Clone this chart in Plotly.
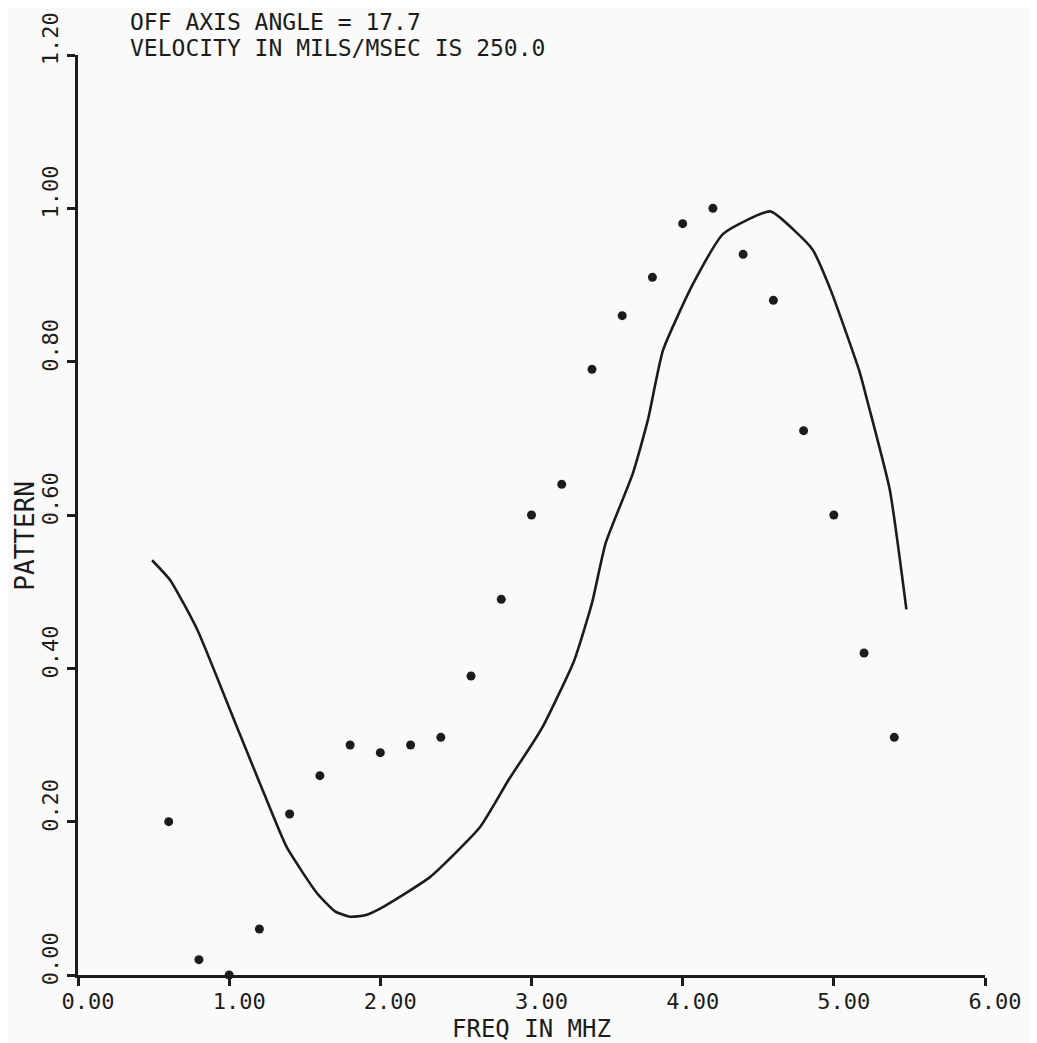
import plotly.graph_objects as go

# Measured points (dots)
freq_pts = [0.6, 0.8, 1.0, 1.2, 1.4, 1.6, 1.8, 2.0, 2.2, 2.4, 2.6, 2.8, 3.0,
            3.2, 3.4, 3.6, 3.8, 4.0, 4.2, 4.4, 4.6, 4.8, 5.0, 5.2, 5.4]
pattern_pts = [0.20, 0.02, 0.00, 0.06, 0.21, 0.26, 0.30, 0.29, 0.30, 0.31, 0.39,
               0.49, 0.60, 0.64, 0.79, 0.86, 0.91, 0.98, 1.00, 0.94, 0.88, 0.71,
               0.60, 0.42, 0.31]

# Computed curve (solid line)
freq_curve = [0.49, 0.61, 0.79, 1.05, 1.23, 1.38, 1.58, 1.70, 1.80, 1.90, 2.02,
              2.33, 2.66, 2.85, 3.00, 3.08, 3.28, 3.40, 3.49, 3.67, 3.77, 3.87,
              4.07, 4.27, 4.58, 4.75, 4.86, 4.98, 5.17, 5.22, 5.37, 5.48]
pattern_curve = [0.541, 0.515, 0.450, 0.324, 0.237, 0.167, 0.107, 0.083, 0.076,
                 0.078, 0.089, 0.128, 0.193, 0.255, 0.300, 0.326, 0.409, 0.485,
                 0.563, 0.654, 0.724, 0.815, 0.902, 0.967, 0.996, 0.969, 0.946,
                 0.893, 0.787, 0.750, 0.633, 0.477]

x_tick_vals = [0, 1, 2, 3, 4, 5, 6]
x_tick_text = ["0.00", "1.00", "2.00", "3.00", "4.00", "5.00", "6.00"]
y_tick_vals = [0, 0.2, 0.4, 0.6, 0.8, 1.0, 1.2]
y_tick_text = ["0.00", "0.20", "0.40", "0.60", "0.80", "1.00", "1.20"]

title_lines = ["OFF AXIS ANGLE = 17.7", "VELOCITY IN MILS/MSEC IS 250.0"]
x_title = "FREQ IN MHZ"
y_title = "PATTERN"

INK = "#1c1c1c"
FONT = "DejaVu Sans Mono"

fig = go.Figure()
fig.add_trace(go.Scatter(
    x=freq_curve, y=pattern_curve, mode="lines",
    line=dict(color=INK, width=2.6, shape="spline", smoothing=0.5),
    showlegend=False, hoverinfo="skip",
))
fig.add_trace(go.Scatter(
    x=freq_pts, y=pattern_pts, mode="markers",
    marker=dict(color=INK, size=9), showlegend=False, cliponaxis=False,
))

# page body adds an 8px offset; margins compensate so the plot lands where the reference has it
fig.update_layout(
    width=1037, height=1043,
    margin=dict(l=70, r=60, t=47, b=76),
    paper_bgcolor="#fafafa", plot_bgcolor="#fafafa",
    font=dict(family=FONT, color=INK),
    xaxis=dict(
        range=[0, 6], tickvals=x_tick_vals, ticktext=x_tick_text,
        showgrid=False, zeroline=False, showline=True, linecolor=INK,
        linewidth=2.5, ticks="outside", ticklen=8, tickwidth=2.5, tickcolor=INK,
        ticklabelshift=10, ticklabelstandoff=-3, ticklabeloverflow="allow",
        tickfont=dict(size=22, family=FONT, color=INK), automargin=False,
    ),
    yaxis=dict(
        range=[0, 1.2], tickvals=y_tick_vals, ticktext=y_tick_text,
        showgrid=False, zeroline=False, showline=True, linecolor=INK,
        linewidth=2.5, ticks="outside", ticklen=8, tickwidth=2.5, tickcolor=INK,
        tickangle=-90, ticklabelshift=-13, ticklabeloverflow="allow",
        tickfont=dict(size=22, family=FONT, color=INK), automargin=False,
    ),
)

fig.add_annotation(text=title_lines[0], xref="paper", yref="paper",
                   x=0.055, y=1.0359, xanchor="left", yanchor="middle",
                   showarrow=False, font=dict(size=23, family=FONT, color=INK))
fig.add_annotation(text=title_lines[1], xref="paper", yref="paper",
                   x=0.055, y=1.0076, xanchor="left", yanchor="middle",
                   showarrow=False, font=dict(size=23, family=FONT, color=INK))
fig.add_annotation(text=x_title, xref="paper", yref="paper",
                   x=0.5, y=-0.0585, xanchor="center", yanchor="middle",
                   showarrow=False, font=dict(size=24, family=FONT, color=INK))
fig.add_annotation(text=y_title, xref="paper", yref="paper", textangle=-90,
                   x=-0.058, y=0.478, xanchor="center", yanchor="middle",
                   showarrow=False, font=dict(size=26, family=FONT, color=INK))

fig.write_html("out.html")
